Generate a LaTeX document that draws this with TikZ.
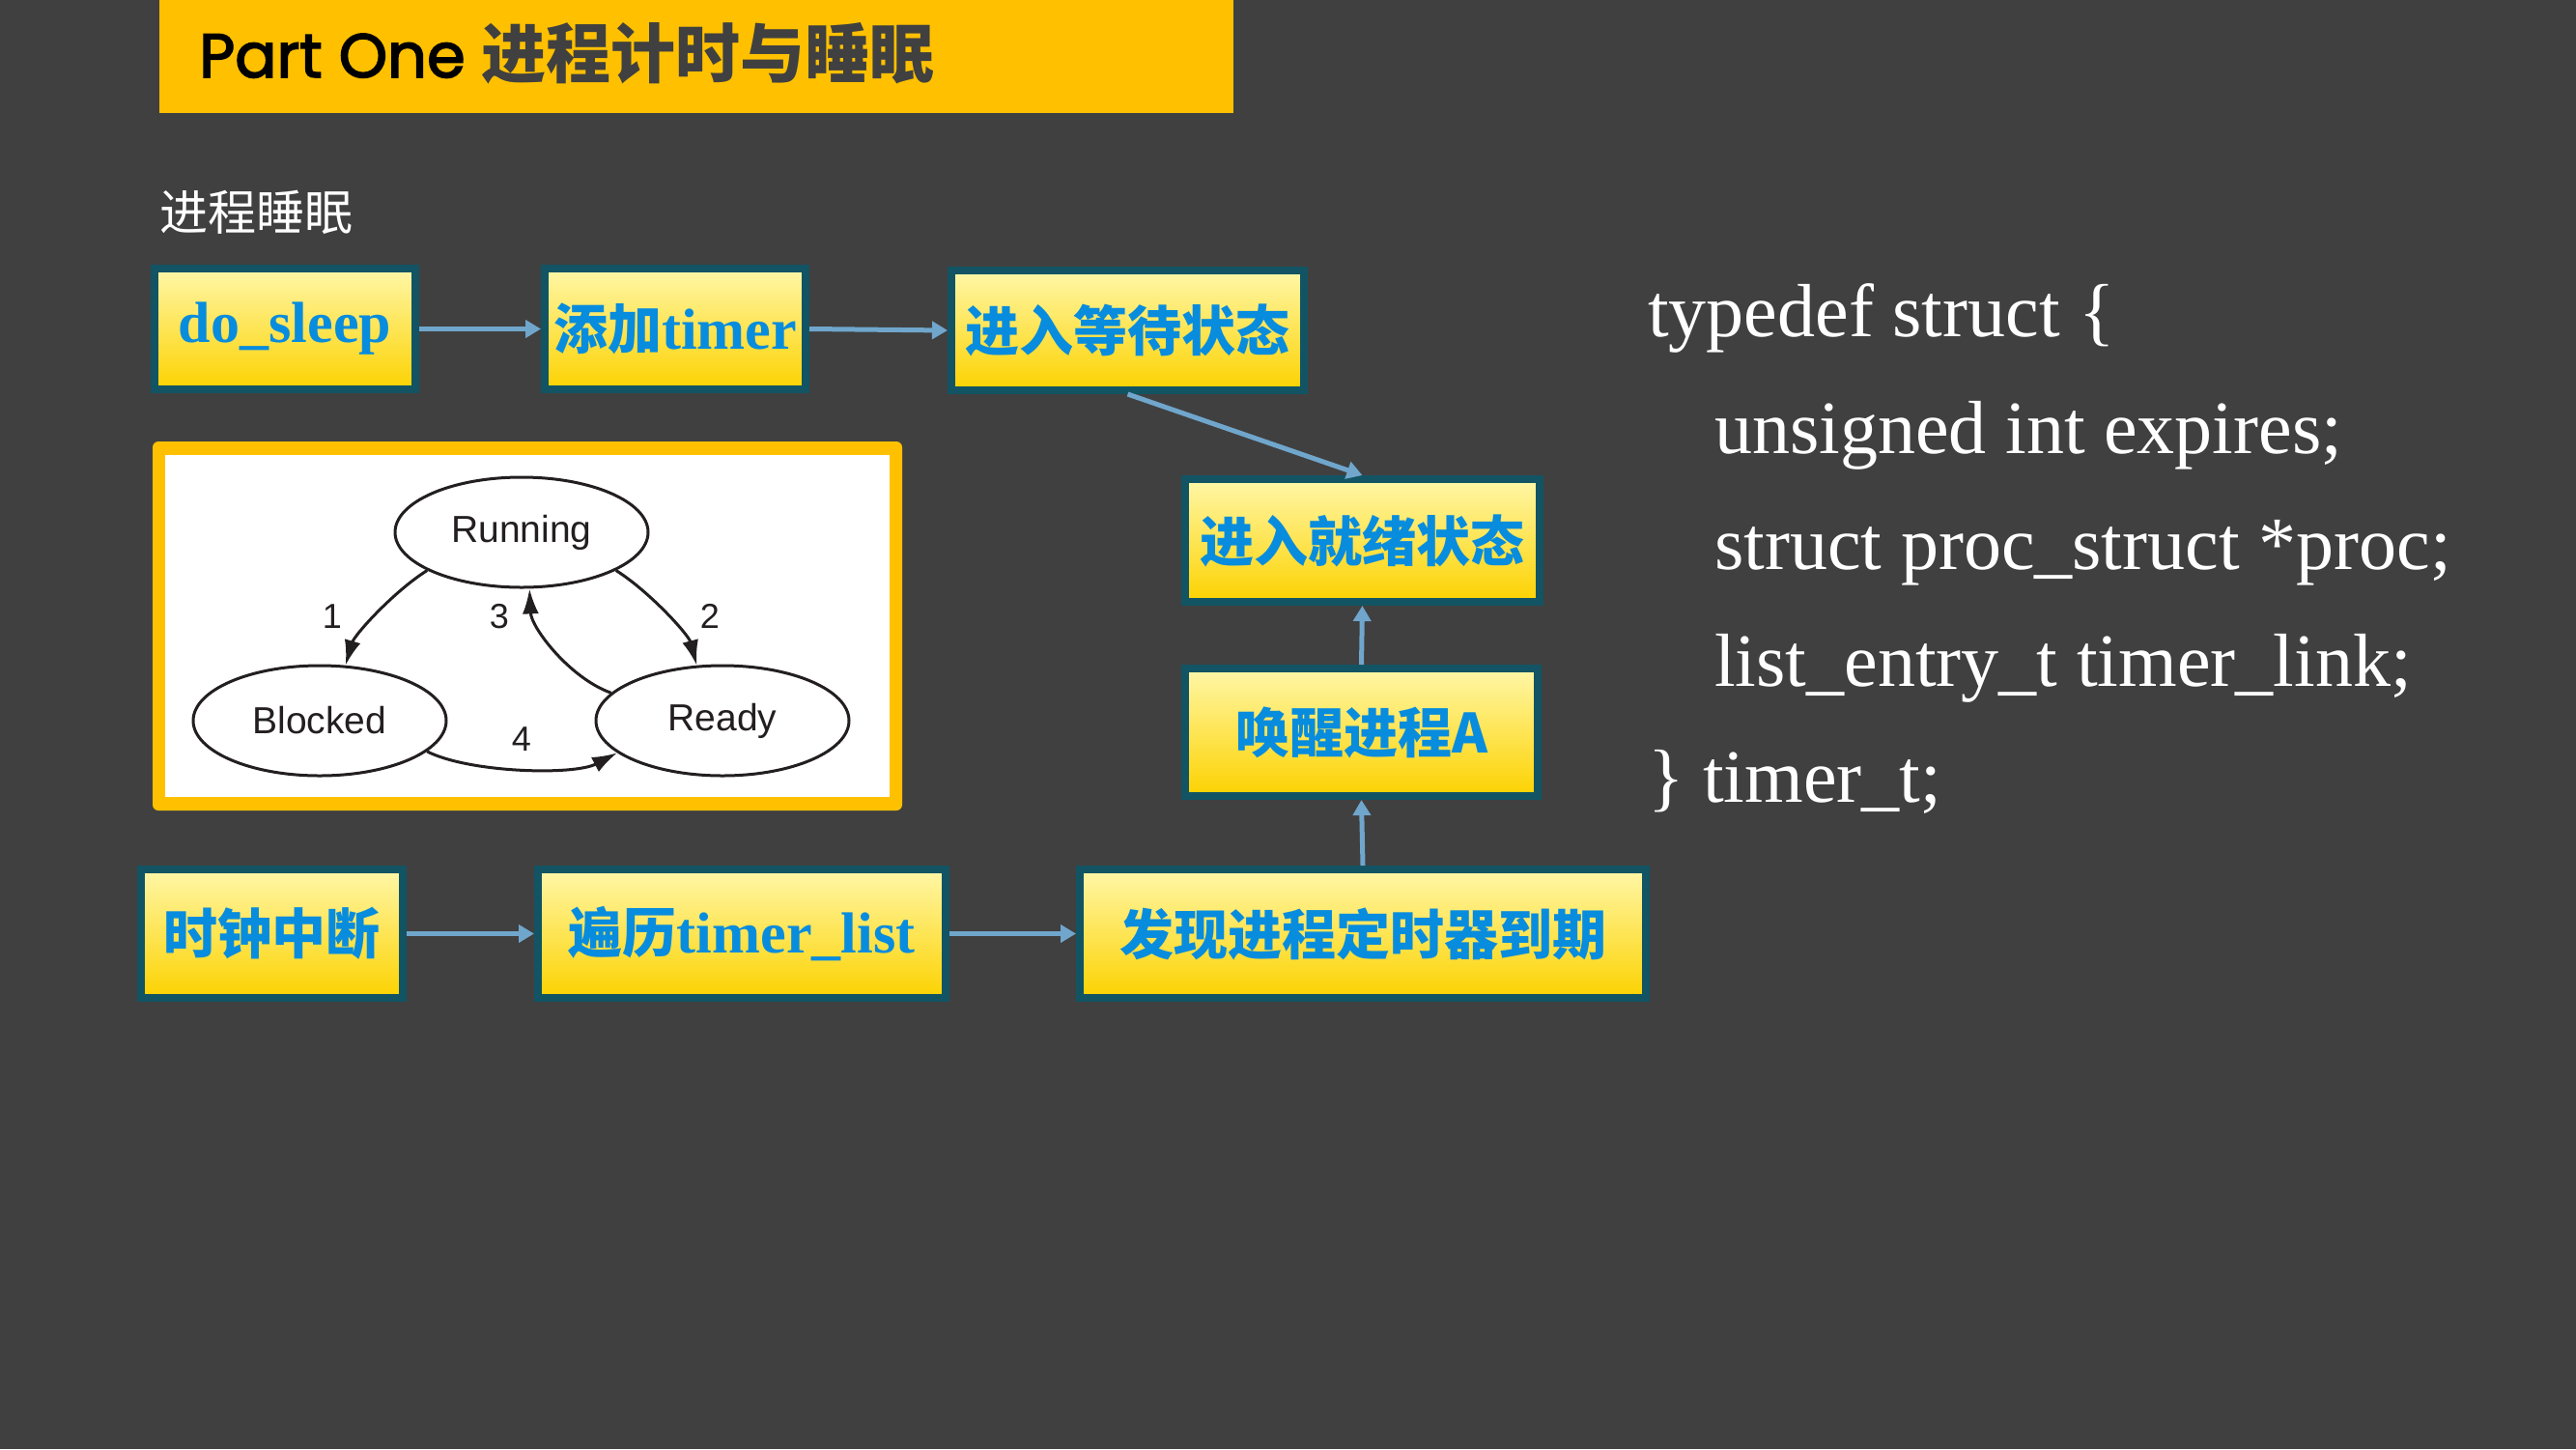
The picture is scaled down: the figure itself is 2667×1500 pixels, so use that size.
\documentclass[tikz,border=0pt]{standalone}
\usepackage{fontspec}
\setmainfont{Liberation Serif}
\newfontfamily\cjk{Noto Sans CJK SC}
\newfontfamily\titlefont{Poppins}[FakeBold=2.5]
\newfontfamily\statefont{Liberation Sans}
\usetikzlibrary{arrows.meta,shapes.geometric}

\definecolor{bg}{RGB}{64,64,64}
\definecolor{gold}{RGB}{255,192,0}
\definecolor{boxtop}{RGB}{255,247,168}
\definecolor{boxbot}{RGB}{252,210,0}
\definecolor{boxline}{RGB}{18,84,100}
\definecolor{flowblue}{RGB}{112,166,204}
\definecolor{txtblue}{RGB}{8,140,222}
\definecolor{titlegray}{RGB}{64,64,64}
\definecolor{ink}{RGB}{35,31,32}

\newcommand{\zh}[1]{{\cjk\fontsize{56}{60}\selectfont #1}}
\newcommand{\la}[1]{{\fontsize{60}{64}\selectfont #1}}

\begin{document}
\begin{tikzpicture}[x=1pt,y=-1pt,
  stepbox/.style={draw=boxline, line width=8pt, top color=boxtop, bottom color=boxbot,
    inner sep=0pt, text=txtblue, font=\bfseries},
  flow/.style={draw=flowblue, line width=5pt, -{Triangle[length=16pt,width=18pt]}},
  state/.style={ellipse, draw=ink, line width=3pt, fill=white, minimum width=262pt,
    minimum height=114pt, inner sep=0pt, text=ink, font=\statefont\fontsize{39}{41}\selectfont},
  trans/.style={draw=ink, line width=3pt, -{Latex[length=26pt,width=17pt]}},
  tlabel/.style={inner sep=0pt, text=ink, font=\statefont\fontsize{36}{38}\selectfont},
  code/.style={anchor=base west, inner sep=0pt, text=white, font=\fontsize{78}{80}\selectfont}
]
\useasboundingbox (0,0) rectangle (2667,1500);
\fill[bg] (0,0) rectangle (2667,1500);

% heading banner
\node[fill=gold, minimum width=1112pt, minimum height=117pt, inner sep=0pt, anchor=north west] (banner) at (165,0) {};
\node[anchor=base west, inner sep=0pt, font=\titlefont\fontsize{64}{70}\selectfont] (heading) at (206,80)
  {{\color{black}Part One} {\cjk\bfseries\fontsize{67}{70}\selectfont\color{titlegray}进程计时与睡眠}};

\node[anchor=base west, inner sep=0pt, text=white, font=\cjk\fontsize{50}{54}\selectfont] (sub) at (165,238) {进程睡眠};

% sleep path
\node[stepbox, minimum width=270pt, minimum height=125pt] (sleep) at (295,340.5) {\la{do\_sleep}};
\node[stepbox, minimum width=270pt, minimum height=125pt] (addt) at (699,340.5) {\zh{添加}\la{timer}};
\node[stepbox, minimum width=365pt, minimum height=124pt] (wait) at (1167.5,342) {\zh{进入等待状态}};
\node[stepbox, minimum width=367pt, minimum height=127pt] (ready) at (1410.5,559.5) {\zh{进入就绪状态}};
\node[stepbox, minimum width=365pt, minimum height=132pt] (wake) at (1409.5,758) {\zh{唤醒进程A}};

% clock path
\node[stepbox, minimum width=271pt, minimum height=133pt] (tick) at (281.5,966.5) {\zh{时钟中断}};
\node[stepbox, minimum width=422pt, minimum height=133pt] (walk) at (768,966.5) {\zh{遍历}\la{timer\_list}};
\node[stepbox, minimum width=586pt, minimum height=133pt] (found) at (1411,966.5) {\zh{发现进程定时器到期}};

\draw[flow] (sleep.east) -- (addt.west);
\draw[flow] (addt.east) -- (wait.west);
\draw[flow] (wait.south) -- (ready.north);
\draw[flow] (wake.north) -- (ready.south);
\draw[flow] (tick.east) -- (walk.west);
\draw[flow] (walk.east) -- (found.west);
\draw[flow] (found.north) -- (wake.south);

% process state panel
\fill[gold, rounded corners=6pt] (158,457) rectangle (934,839);
\fill[white] (171,471) rectangle (921,825);
\node[state] (run) at (540,551) {Running};
\node[state] (blk) at (331,746) {Blocked};
\node[state] (rdy) at (748,746) {Ready};
\draw[trans] (run.202) .. controls (408,612) and (367,657) .. (blk.65);
\draw[trans] (run.-22) .. controls (672,612) and (713,657) .. (rdy.115);
\draw[trans] (rdy.166) .. controls (590,702) and (550,650) .. (run.278);
\draw[trans] (blk.-16) .. controls (486,800) and (594,803) .. (rdy.197);
\node[tlabel] (l1) at (344,638) {1};
\node[tlabel] (l3) at (517,638) {3};
\node[tlabel] (l2) at (735,638) {2};
\node[tlabel] (l4) at (540,765) {4};

% timer_t definition
\node[code] (c1) at (1706,348) {typedef struct \{};
\node[code] (c2) at (1775,469) {unsigned int expires;};
\node[code] (c3) at (1775,589) {struct proc\_struct *proc;};
\node[code] (c4) at (1775,710) {list\_entry\_t timer\_link;};
\node[code] (c5) at (1706,830) {\} timer\_t;};
\end{tikzpicture}
\end{document}
